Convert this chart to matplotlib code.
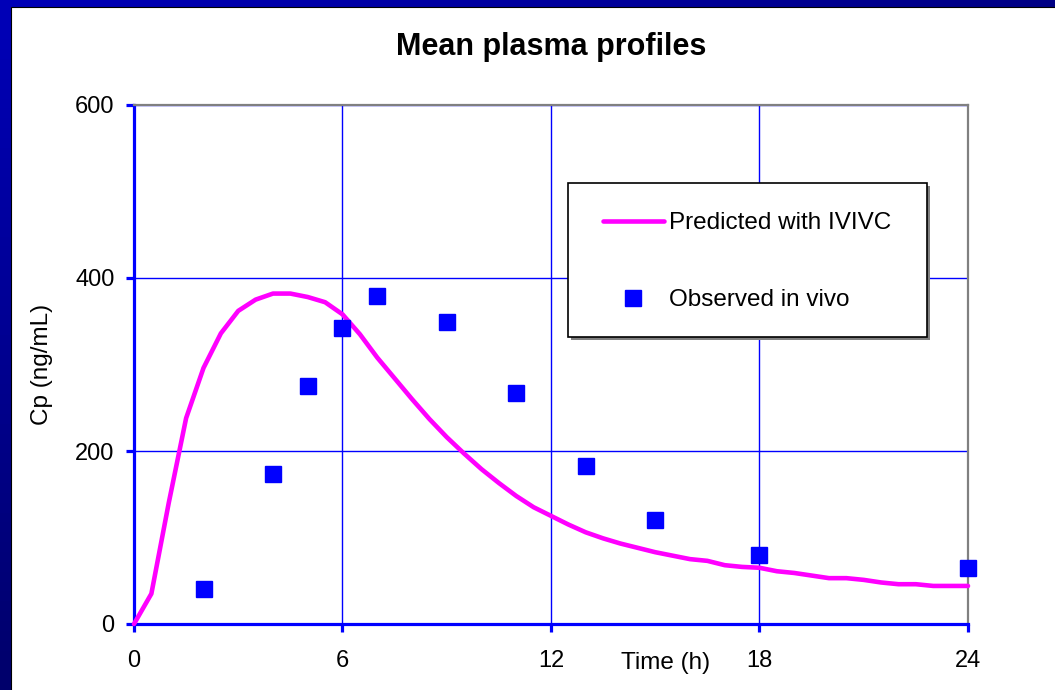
import matplotlib.pyplot as plt
import numpy as np
from matplotlib.patches import Rectangle

plt.rcParams['font.family'] = ['Liberation Sans', 'DejaVu Sans']

# predicted curve (IVIVC), every half hour
pred_t = np.arange(0, 24.5, 0.5)
pred_cp = [0, 35, 140, 238, 296, 336, 362, 375, 382, 382,
           378, 372, 358, 335, 308, 284, 260, 237, 216, 197,
           179, 163, 148, 135, 125, 115, 106, 99, 93, 88,
           83, 79, 75, 73, 68, 66, 65, 61, 59, 56,
           53, 53, 51, 48, 46, 46, 44, 44, 44]

# observed in vivo means
obs_t = [2, 4, 5, 6, 7, 9, 11, 13, 15, 18, 24]
obs_cp = [40, 173, 275, 342, 379, 349, 267, 183, 120, 80, 65]

x_ticks = [0, 6, 12, 18, 24]
y_ticks = [0, 200, 400, 600]

fig = plt.figure(figsize=(10.55, 6.9), dpi=100)

# slide background: blue band on the top and left edges
bg = fig.add_axes([0, 0, 1, 1], zorder=0)
yy, xx = np.mgrid[0:1:70j, 0:1:106j]
blue = 0.72 - 0.2 * xx - 0.3 * yy
grad = np.dstack([np.zeros_like(blue), np.zeros_like(blue), blue])
bg.imshow(grad, extent=[0, 1, 0, 1], aspect='auto', origin='upper')
bg.add_patch(Rectangle((11 / 1055, -0.01), 1.0, 1 - 7 / 690 + 0.01,
                       facecolor='white', edgecolor='black', lw=0.8))
bg.set_xlim(0, 1)
bg.set_ylim(0, 1)
bg.axis('off')

ax = fig.add_axes([134 / 1055, 1 - 624 / 690, 834 / 1055, 519 / 690], zorder=1)
ax.set_facecolor('white')

ax.plot(pred_t, pred_cp, color='#FF00FF', lw=3.3, solid_capstyle='round',
        solid_joinstyle='round', zorder=5, clip_on=False,
        label='Predicted with IVIVC')
ax.plot(obs_t, obs_cp, linestyle='none', marker='s', markersize=11.5,
        color='#0000FF', mec='#0000FF', zorder=6, clip_on=False,
        label='Observed in vivo')

ax.set_xlim(0, 24)
ax.set_ylim(0, 600)
ax.set_xticks(x_ticks)
ax.set_yticks(y_ticks)
ax.grid(True, color='#0000FF', lw=1.0)

for side in ['left', 'bottom']:
    ax.spines[side].set_color('#0000FF')
    ax.spines[side].set_linewidth(2.3)
for side in ['top', 'right']:
    ax.spines[side].set_color('#808080')
    ax.spines[side].set_linewidth(1.6)
for sp in ax.spines.values():
    sp.set_zorder(3)

ax.tick_params(axis='y', direction='out', length=6, width=2.3, color='#0000FF',
               labelsize=17, pad=8)
ax.tick_params(axis='x', direction='out', length=6, width=2.3, color='#0000FF',
               labelsize=17, pad=13)

ax.set_title('Mean plasma profiles', fontsize=22, fontweight='bold', pad=36)
ax.set_ylabel('Cp (ng/mL)', fontsize=17.5, labelpad=16)
ax.set_xlabel('Time (h)', fontsize=17.5)
ax.xaxis.set_label_coords(0.637, -0.054)

# legend box with drop shadow
bx0, by0 = (568 - 134) / 834, (624 - 337) / 519
bw, bh = (927 - 568) / 834, (337 - 183) / 519
ax.add_patch(Rectangle((bx0 + 0.003, by0 - 0.005), bw, bh, transform=ax.transAxes,
                       facecolor='#808080', edgecolor='none', zorder=7, clip_on=False))
ax.add_patch(Rectangle((bx0, by0), bw, bh, transform=ax.transAxes,
                       facecolor='white', edgecolor='black', lw=1.2, zorder=8,
                       clip_on=False))
leg = ax.legend(loc='center', bbox_to_anchor=(0.735, 0.698), frameon=False,
                fontsize=17.5, handlelength=2.5, handletextpad=0.2,
                labelspacing=2.25, borderpad=0)
leg.set_zorder(9)

fig.savefig('out.png', dpi=100)
